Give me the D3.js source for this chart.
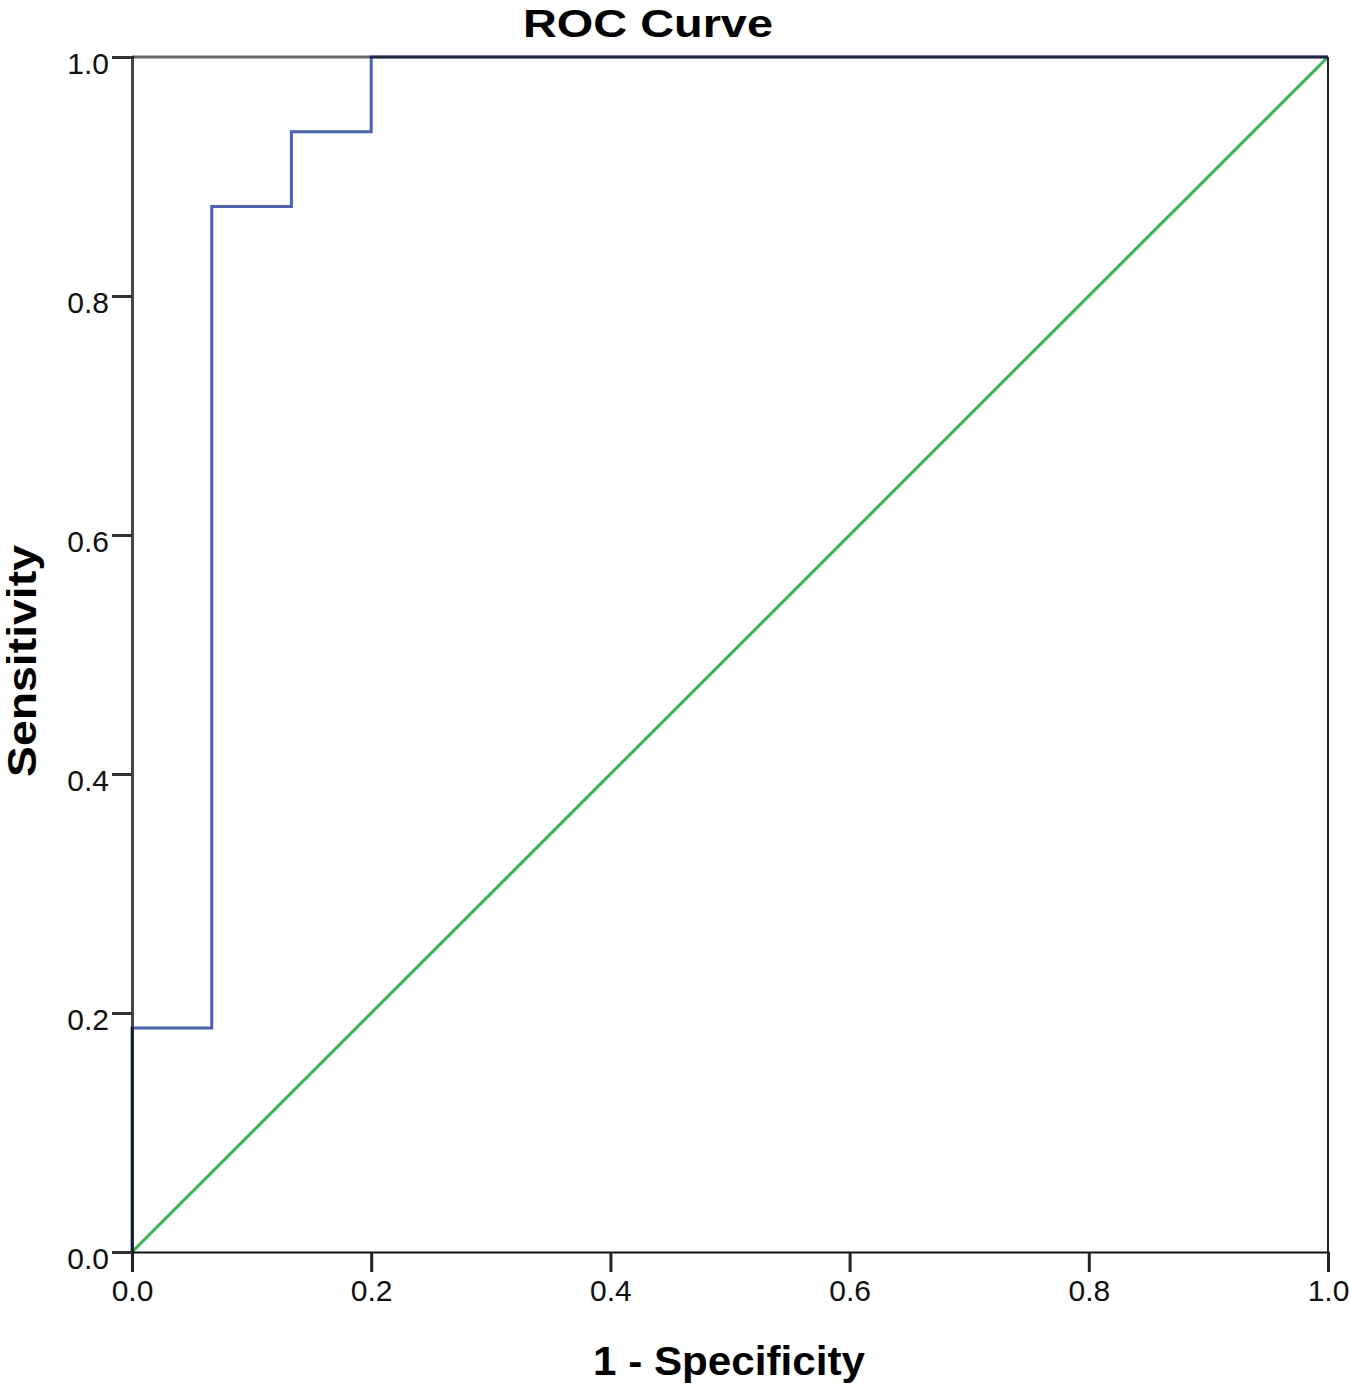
<!DOCTYPE html>
<html>
<head>
<meta charset="utf-8">
<script src="https://cdn.jsdelivr.net/npm/d3@7"></script>
<style>
  body { margin: 0; background: #fff; }
  text { font-family: "Liberation Sans", Arial, sans-serif; }
</style>
</head>
<body>
<script>
// ROC curve points (1 - specificity, sensitivity)
const fpr = [0, 0, 0.0667, 0.0667, 0.1333, 0.1333, 0.2, 0.2, 1.0]
const tpr = [0, 0.1875, 0.1875, 0.875, 0.875, 0.9375, 0.9375, 1.0, 1.0]
// reference diagonal
const refX = [0, 1]
const refY = [0, 1]
const tickValues = [0, 0.2, 0.4, 0.6, 0.8, 1.0]

const width = 1350
const height = 1389
const plotLeft = 132, plotRight = 1328, plotTop = 57, plotBottom = 1252

const svg = d3.select('body').append('svg')
    .attr('width', width)
    .attr('height', height)

const xScale = d3.scaleLinear().domain([0, 1]).range([plotLeft, plotRight])
const yScale = d3.scaleLinear().domain([0, 1]).range([plotBottom, plotTop])

const line = d3.line().x(d => xScale(d[0])).y(d => yScale(d[1]))

// diagonal reference line
svg.append('path')
    .datum(refX.map((x, i) => [x, refY[i]]))
    .attr('d', line)
    .attr('fill', 'none')
    .attr('stroke', '#2fb84c')
    .attr('stroke-width', 3)

// ROC curve
svg.append('path')
    .datum(fpr.map((x, i) => [x, tpr[i]]))
    .attr('d', line)
    .attr('fill', 'none')
    .attr('stroke', '#4862bd')
    .attr('stroke-width', 3)

// frame (top and right), semi-transparent so the curve underneath darkens it
svg.append('line')
    .attr('x1', xScale(0)).attr('x2', xScale(1))
    .attr('y1', yScale(1)).attr('y2', yScale(1))
    .attr('stroke', '#000').attr('stroke-opacity', 0.6).attr('stroke-width', 3)
svg.append('line')
    .attr('x1', xScale(1)).attr('x2', xScale(1))
    .attr('y1', yScale(1)).attr('y2', yScale(0))
    .attr('stroke', '#222').attr('stroke-width', 2)

// axes
const xAxis = svg.append('g')
    .attr('transform', `translate(0, ${plotBottom})`)
    .call(d3.axisBottom(xScale).tickValues(tickValues).tickSize(20).tickPadding(8).tickFormat(d3.format('.1f')))
xAxis.select('.domain').attr('stroke', '#111').attr('stroke-width', 2)
xAxis.selectAll('.tick line').attr('stroke', '#222').attr('stroke-width', 3)
xAxis.selectAll('.tick text').attr('font-size', 30).attr('fill', '#111')
    .attr('font-family', '"Liberation Sans", Arial, sans-serif')

const yAxis = svg.append('g')
    .attr('transform', `translate(${plotLeft}, 0)`)
    .call(d3.axisLeft(yScale).tickValues(tickValues).tickSize(20).tickPadding(3).tickFormat(d3.format('.1f')))
yAxis.select('.domain').attr('stroke', '#000').attr('stroke-opacity', 0.72).attr('stroke-width', 3)
yAxis.selectAll('.tick line').attr('stroke', '#333').attr('stroke-width', 3)
yAxis.selectAll('.tick text').attr('font-size', 30).attr('fill', '#111')
    .attr('dy', '0.55em')
    .attr('font-family', '"Liberation Sans", Arial, sans-serif')

// title
svg.append('text')
    .attr('x', 648).attr('y', 37)
    .attr('text-anchor', 'middle')
    .attr('font-size', 38).attr('font-weight', 'bold')
    .attr('textLength', 250).attr('lengthAdjust', 'spacingAndGlyphs')
    .text('ROC Curve')

// axis titles
svg.append('text')
    .attr('x', 729).attr('y', 1375)
    .attr('text-anchor', 'middle')
    .attr('font-size', 41).attr('font-weight', 'bold')
    .attr('textLength', 272).attr('lengthAdjust', 'spacingAndGlyphs')
    .text('1 - Specificity')

svg.append('text')
    .attr('transform', 'translate(36, 661) rotate(-90)')
    .attr('text-anchor', 'middle')
    .attr('font-size', 41).attr('font-weight', 'bold')
    .attr('textLength', 232).attr('lengthAdjust', 'spacingAndGlyphs')
    .text('Sensitivity')
</script>
</body>
</html>
